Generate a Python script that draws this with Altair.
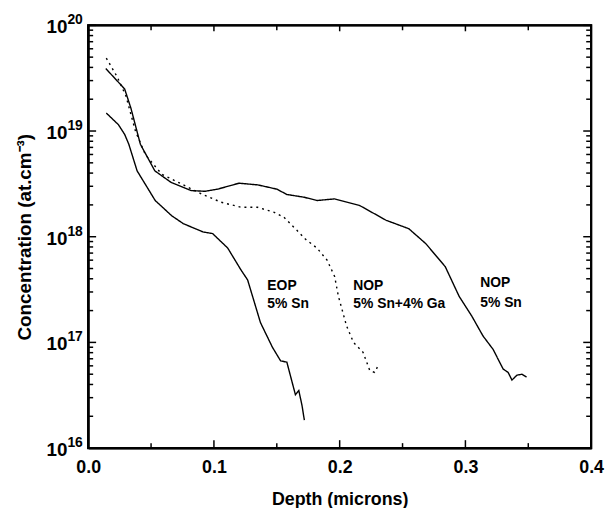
import altair as alt
import pandas as pd

W, H = 508, 427
FONT = "Liberation Sans"

# NOP 5% Sn (solid)
nop_sn_depth = [0.014, 0.029, 0.034, 0.0415, 0.053, 0.066, 0.082, 0.093, 0.103, 0.120,
                0.135, 0.150, 0.158, 0.172, 0.182, 0.196, 0.216, 0.237, 0.255, 0.2685,
                0.284, 0.295, 0.305, 0.314, 0.322, 0.330, 0.334, 0.337, 0.341, 0.345, 0.3486]
nop_sn_conc = [3.9e19, 2.5e19, 1.64e19, 7.5e18, 4.2e18, 3.26e18, 2.73e18, 2.69e18, 2.82e18, 3.21e18,
               3.09e18, 2.82e18, 2.51e18, 2.36e18, 2.2e18, 2.28e18, 1.97e18, 1.43e18, 1.19e18, 8.6e17,
               5.2e17, 2.73e17, 1.78e17, 1.15e17, 8.6e16, 5.6e16, 5.2e16, 4.4e16, 4.9e16, 5.0e16, 4.7e16]

# NOP 5% Sn + 4% Ga (dotted)
nop_ga_depth = [0.0144, 0.023, 0.030, 0.0376, 0.0454, 0.0585, 0.0743, 0.090, 0.1057, 0.1215,
                0.1346, 0.148, 0.1556, 0.166, 0.1727, 0.182, 0.190, 0.196, 0.199, 0.2055,
                0.211, 0.2186, 0.224, 0.2278, 0.2305]
nop_ga_conc = [4.9e19, 3.26e19, 2.15e19, 9.95e18, 6.0e18, 3.9e18, 3.15e18, 2.54e18, 2.12e18, 1.9e18,
               1.9e18, 1.7e18, 1.53e18, 1.15e18, 9.5e17, 7.8e17, 6.0e17, 4.2e17, 2.73e17, 1.43e17,
               1.0e17, 8.05e16, 5.4e16, 5.2e16, 6.0e16]

# EOP 5% Sn (solid)
eop_depth = [0.0144, 0.024, 0.029, 0.0323, 0.0389, 0.0533, 0.0664, 0.0756, 0.0913, 0.099,
             0.111, 0.1215, 0.1268, 0.137, 0.1465, 0.153, 0.158, 0.1648, 0.1675, 0.170, 0.1719]
eop_conc = [1.48e19, 1.15e19, 9.3e18, 7.5e18, 4.2e18, 2.2e18, 1.58e18, 1.33e18, 1.11e18, 1.07e18,
            7.8e17, 4.85e17, 3.9e17, 1.54e17, 9.0e16, 6.7e16, 6.5e16, 3.2e16, 3.5e16, 2.55e16, 1.84e16]

label_depth = [0.1425, 0.1425, 0.2108, 0.2108, 0.3118, 0.3118]
label_conc = [3.44e17, 2.33e17, 3.44e17, 2.33e17, 3.66e17, 2.38e17]
label_text = ["EOP", "5% Sn", "NOP", "5% Sn+4% Ga", "NOP", "5% Sn"]

y_major = [1e16, 1e17, 1e18, 1e19, 1e20]
y_exp = ["16", "17", "18", "19", "20"]
y_minor = [k * 10.0 ** d for d in range(16, 20) for k in range(2, 10)]
x_major = [0.0, 0.1, 0.2, 0.3, 0.4]
x_minor = [0.05, 0.15, 0.25, 0.35]

series_names = ["NOP 5% Sn", "NOP 5% Sn+4% Ga", "EOP 5% Sn"]
df = pd.concat([
    pd.DataFrame({"depth": nop_sn_depth, "conc": nop_sn_conc, "series": series_names[0]}),
    pd.DataFrame({"depth": nop_ga_depth, "conc": nop_ga_conc, "series": series_names[1]}),
    pd.DataFrame({"depth": eop_depth, "conc": eop_conc, "series": series_names[2]}),
])

xscale = alt.Scale(domain=[0, 0.4], nice=False, zero=False)
yscale = alt.Scale(type="log", domain=[1e16, 1e20], nice=False)

x_axis = alt.Axis(values=x_major, format=".1f", labelFlush=False, ticks=False,
                  domain=True, domainColor="#000000", domainWidth=2, domainOpacity=1,
                  labelFontSize=18, labelFontWeight="bold", labelPadding=11,
                  title="Depth (microns)", titleFontSize=18, titleFontWeight="bold",
                  titlePadding=14)
y_axis = alt.Axis(labels=False, ticks=False,
                  domain=True, domainColor="#000000", domainWidth=2, domainOpacity=1,
                  title="Concentration (at.cm⁻³)", titleFontSize=19,
                  titleFontWeight="bold", titlePadding=54)

def X(field):
    return alt.X(field, scale=xscale, axis=x_axis)

def Y(field):
    return alt.Y(field, scale=yscale, axis=y_axis)

lines = alt.Chart(df).mark_line(color="black", strokeWidth=1.4).encode(
    x=X("depth:Q"),
    y=Y("conc:Q"),
    strokeDash=alt.StrokeDash("series:N",
                              scale=alt.Scale(domain=series_names, range=[[1, 0], [2, 4], [1, 0]]),
                              legend=None),
)

labels = alt.Chart(pd.DataFrame({"d": label_depth, "c": label_conc, "t": label_text})).mark_text(
    align="left", baseline="middle", fontSize=14, fontWeight="bold", font=FONT, color="black"
).encode(x=X("d:Q"), y=Y("c:Q"), text="t:N")

ymaj_df = pd.DataFrame({"v": y_major, "base": ["10"] * 5, "exp": y_exp})
ymin_df = pd.DataFrame({"v": y_minor})
xmaj_df = pd.DataFrame({"v": x_major})
xmin_df = pd.DataFrame({"v": x_minor})

def yticks(data, length, left=True):
    x0, x1 = (0, length) if left else (W - length, W)
    return alt.Chart(data).mark_rule(color="black", strokeWidth=1.5).encode(
        y=Y("v:Q"), x=alt.value(x0), x2=alt.value(x1))

def xticks(data, length, bottom=True):
    y0, y1 = (H, H - length) if bottom else (0, length)
    return alt.Chart(data).mark_rule(color="black", strokeWidth=1.5).encode(
        x=X("v:Q"), y=alt.value(y0), y2=alt.value(y1))

# plot frame as a rectangle spanning the full x and y domains
frame_df = pd.DataFrame({"x0": [x_major[0]], "x1": [x_major[-1]],
                         "y0": [y_major[0]], "y1": [y_major[-1]]})
frame = alt.Chart(frame_df).mark_rect(
    fillOpacity=0, stroke="#000000", strokeWidth=2.2, strokeOpacity=1
).encode(x=X("x0:Q"), x2="x1:Q", y=Y("y0:Q"), y2="y1:Q")

ylab_base = alt.Chart(ymaj_df).mark_text(
    align="right", baseline="middle", fontSize=19, fontWeight="bold", font=FONT, color="black", dy=2
).encode(y=Y("v:Q"), x=alt.value(-21), text="base:N")
ylab_exp = alt.Chart(ymaj_df).mark_text(
    align="left", baseline="middle", fontSize=14, fontWeight="bold", font=FONT, color="black", dy=-5
).encode(y=Y("v:Q"), x=alt.value(-21), text="exp:N")

chart = alt.layer(
    frame, lines, labels,
    yticks(ymaj_df, 8), yticks(ymin_df, 5), yticks(ymaj_df, 8, False), yticks(ymin_df, 5, False),
    xticks(xmaj_df, 8), xticks(xmin_df, 5), xticks(xmaj_df, 6, False), xticks(xmin_df, 5, False),
    ylab_base, ylab_exp,
).properties(
    width=W, height=H,
    background="white",
    autosize=alt.AutoSizeParams(type="none"),
    padding={"left": 81, "top": 15, "right": 15, "bottom": 58},
).configure_view(stroke="#000000", strokeWidth=2, strokeOpacity=1).configure_axis(
    grid=False, labelFont=FONT, titleFont=FONT, labelColor="black", titleColor="black"
)

chart.save("out.html", embed_options={"renderer": "svg", "actions": False})
